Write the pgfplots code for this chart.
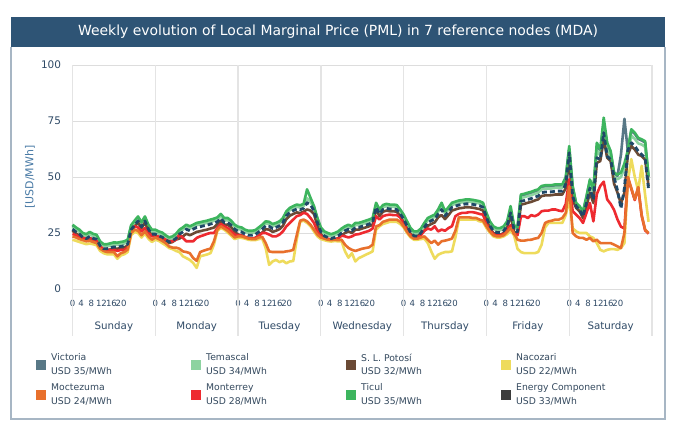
\documentclass[border=0pt]{standalone}
\usepackage{pgfplots}
\pgfplotsset{compat=1.18}
\usepackage{pgfplotstable}
\usepackage{fontspec}
\setmainfont{DejaVu Sans}

\definecolor{band}{HTML}{2E5475}
\definecolor{framec}{HTML}{A7B6C4}
\definecolor{ticktxt}{HTML}{2F4A66}
\definecolor{ylab}{HTML}{4A7BA6}
\definecolor{gridc}{HTML}{DDDDDD}
\definecolor{gridv}{HTML}{E4E4E4}
\definecolor{legtxt}{HTML}{34495E}
\definecolor{cVic}{HTML}{587886}
\definecolor{cTem}{HTML}{8DD3A0}
\definecolor{cSLP}{HTML}{6B4A35}
\definecolor{cNac}{HTML}{EEDB5C}
\definecolor{cMoc}{HTML}{E8702C}
\definecolor{cMty}{HTML}{EE2A30}
\definecolor{cTic}{HTML}{3DB55E}
\definecolor{cEne}{HTML}{3C3C3C}
\definecolor{cEneLine}{HTML}{1F4868}

% hourly PML, Sunday 0h ... Saturday 23h (USD/MWh)
\pgfplotstableread[row sep=crcr,header=false]{
28.7\\27.5\\26.5\\25.0\\24.5\\25.5\\24.6\\24.2\\21.3\\20.0\\20.0\\20.4\\20.8\\20.7\\21.0\\21.3\\22.0\\28.5\\30.5\\32.4\\29.8\\32.4\\28.7\\26.5\\
26.5\\25.7\\25.2\\24.0\\23.0\\23.5\\24.6\\26.5\\27.5\\28.7\\28.0\\28.7\\29.5\\29.8\\30.2\\30.5\\31.0\\31.4\\32.0\\33.5\\31.7\\31.7\\30.5\\28.7\\
27.8\\27.5\\26.5\\26.0\\26.0\\26.3\\27.5\\28.7\\30.2\\30.0\\29.0\\29.5\\30.2\\31.7\\34.7\\36.2\\37.0\\37.7\\37.4\\38.0\\44.5\\40.7\\37.0\\31.7\\
27.5\\25.7\\25.0\\24.5\\25.0\\25.7\\27.0\\28.0\\28.7\\28.0\\29.5\\29.5\\30.0\\30.5\\31.0\\31.7\\38.5\\35.5\\37.5\\38.0\\37.7\\37.7\\37.5\\35.5\\
33.2\\30.2\\27.2\\25.7\\25.7\\27.0\\29.5\\31.7\\32.5\\33.2\\35.5\\38.5\\34.7\\36.5\\38.5\\39.0\\39.5\\39.7\\40.0\\40.0\\39.8\\39.5\\39.2\\38.5\\
34.0\\30.2\\28.0\\27.2\\27.2\\28.0\\30.2\\37.0\\28.5\\27.5\\42.2\\42.5\\43.0\\43.4\\44.0\\44.5\\46.0\\46.3\\46.3\\46.4\\46.7\\46.7\\46.7\\50.0\\
63.8\\45.9\\38.4\\37.0\\34.7\\41.4\\48.9\\44.4\\65.3\\62.3\\76.5\\65.3\\61.6\\52.0\\51.0\\52.0\\56.0\\62.0\\71.3\\69.8\\67.5\\66.8\\66.0\\50.4\\
}\tTic

\pgfplotstableread[row sep=crcr,header=false]{
27.7\\26.5\\25.5\\24.0\\23.5\\24.5\\23.6\\23.2\\20.3\\19.0\\19.0\\19.4\\19.8\\19.7\\20.0\\20.3\\21.0\\27.5\\29.5\\31.4\\28.8\\31.4\\27.7\\25.5\\
25.5\\24.7\\24.2\\23.0\\22.0\\22.5\\23.6\\25.5\\26.5\\27.7\\27.0\\27.7\\28.5\\28.8\\29.2\\29.5\\30.0\\30.4\\31.0\\32.5\\30.7\\30.7\\29.5\\27.7\\
26.8\\26.5\\25.5\\25.0\\25.0\\25.3\\26.5\\27.7\\29.2\\29.0\\28.0\\28.5\\29.2\\30.7\\33.7\\35.2\\36.0\\36.7\\36.4\\37.0\\40.5\\39.0\\36.0\\30.7\\
26.5\\24.7\\24.0\\23.5\\24.0\\24.7\\26.0\\27.0\\27.7\\27.0\\28.5\\28.5\\29.0\\29.5\\30.0\\30.7\\37.5\\34.5\\36.5\\37.0\\36.7\\36.7\\36.5\\34.5\\
32.2\\29.2\\26.2\\24.7\\24.7\\26.0\\28.5\\30.7\\31.5\\32.2\\34.5\\37.0\\33.7\\35.5\\37.5\\38.0\\38.5\\38.7\\39.0\\39.0\\38.8\\38.5\\38.2\\37.5\\
33.0\\29.2\\27.0\\26.2\\26.2\\27.0\\29.2\\35.5\\27.5\\26.5\\40.7\\41.0\\41.5\\41.9\\42.5\\43.0\\44.5\\44.8\\44.8\\44.9\\45.2\\45.2\\45.2\\49.0\\
62.0\\43.5\\37.0\\35.5\\33.5\\40.0\\47.0\\42.5\\62.0\\59.5\\72.0\\62.5\\59.0\\50.0\\49.0\\50.0\\54.0\\60.0\\68.5\\67.0\\65.0\\64.5\\63.5\\48.5\\
}\tTem

\pgfplotstableread[row sep=crcr,header=false]{
28.2\\27.0\\26.0\\24.5\\24.0\\25.0\\24.1\\23.7\\20.8\\19.5\\19.5\\19.9\\20.3\\20.2\\20.5\\20.8\\21.5\\28.0\\30.0\\31.9\\29.3\\31.9\\28.2\\26.0\\
26.0\\25.2\\24.7\\23.5\\22.5\\23.0\\24.1\\26.0\\27.0\\28.2\\27.5\\28.2\\29.0\\29.3\\29.7\\30.0\\30.5\\30.9\\31.5\\33.0\\31.2\\31.2\\30.0\\28.2\\
27.3\\27.0\\26.0\\25.5\\25.5\\25.8\\27.0\\28.2\\29.7\\29.5\\28.5\\29.0\\29.7\\31.2\\34.2\\35.7\\36.5\\37.2\\36.9\\37.5\\40.0\\39.5\\36.5\\31.2\\
27.0\\25.2\\24.5\\24.0\\24.5\\25.2\\26.5\\27.5\\28.2\\27.5\\29.0\\29.0\\29.5\\30.0\\30.5\\31.2\\37.0\\35.0\\37.0\\37.5\\37.2\\37.2\\37.0\\35.0\\
32.7\\29.7\\26.7\\25.2\\25.2\\26.5\\29.0\\31.2\\32.0\\32.7\\35.0\\36.5\\34.2\\36.0\\38.0\\38.5\\39.0\\39.2\\39.5\\39.5\\39.3\\39.0\\38.7\\38.0\\
33.5\\29.7\\27.5\\26.7\\26.7\\27.5\\29.7\\35.0\\28.0\\27.0\\41.7\\42.0\\42.5\\42.9\\43.5\\44.0\\45.5\\45.8\\45.8\\45.9\\46.2\\46.2\\46.2\\49.5\\
62.5\\45.4\\37.9\\36.5\\34.2\\40.9\\48.4\\43.9\\64.0\\61.8\\74.0\\64.8\\61.1\\51.5\\50.5\\60.0\\76.0\\61.5\\70.8\\69.3\\67.0\\66.3\\65.5\\49.9\\
}\tVic

\pgfplotstableread[row sep=crcr,header=false]{
26.7\\25.5\\24.5\\23.0\\22.5\\23.5\\22.6\\22.2\\19.3\\18.0\\18.0\\18.4\\18.8\\18.7\\19.0\\19.3\\20.0\\26.5\\28.5\\30.4\\27.8\\30.4\\26.7\\24.5\\
24.5\\23.7\\23.2\\22.0\\21.0\\21.5\\22.6\\24.5\\25.5\\26.7\\26.0\\26.7\\27.5\\27.8\\28.2\\28.5\\29.0\\29.4\\30.0\\31.5\\29.7\\29.7\\28.5\\26.7\\
25.8\\25.5\\24.5\\24.0\\24.0\\24.3\\25.5\\26.7\\28.2\\28.0\\27.0\\27.5\\28.2\\29.7\\32.7\\34.2\\35.0\\35.7\\35.4\\36.0\\38.5\\37.5\\35.0\\29.7\\
25.5\\23.7\\23.0\\22.5\\23.0\\23.7\\25.0\\26.0\\26.7\\26.0\\27.5\\27.5\\28.0\\28.5\\29.0\\29.7\\36.5\\33.5\\35.5\\36.0\\35.7\\35.7\\35.5\\33.5\\
31.2\\28.2\\25.2\\23.7\\23.7\\25.0\\27.5\\29.7\\30.5\\31.2\\33.5\\35.5\\32.7\\34.5\\36.5\\37.0\\37.5\\37.7\\38.0\\38.0\\37.8\\37.5\\37.2\\36.5\\
32.0\\28.2\\26.0\\25.2\\25.2\\26.0\\28.2\\34.0\\26.5\\25.5\\39.2\\39.5\\40.0\\40.4\\41.0\\41.5\\43.0\\43.3\\43.3\\43.4\\43.7\\43.7\\43.7\\47.0\\
60.8\\41.4\\37.0\\35.4\\32.4\\38.4\\45.1\\39.9\\58.6\\57.8\\69.8\\59.3\\57.8\\50.0\\44.0\\36.0\\45.0\\62.0\\65.3\\63.8\\61.6\\60.0\\58.6\\44.4\\
}\tEne

\pgfplotstableread[row sep=crcr,header=false]{
26.0\\24.8\\23.8\\22.3\\21.8\\22.8\\21.9\\21.5\\18.6\\17.3\\17.3\\17.7\\18.1\\18.0\\18.3\\18.6\\19.3\\25.8\\27.8\\29.7\\27.1\\29.7\\26.0\\23.8\\
24.0\\23.2\\22.7\\21.5\\20.5\\21.0\\22.1\\22.5\\23.5\\24.7\\24.0\\24.7\\25.5\\25.8\\26.2\\26.5\\27.0\\27.4\\29.0\\30.5\\28.7\\28.7\\27.5\\25.7\\
24.3\\24.0\\23.0\\22.5\\22.5\\22.8\\24.0\\25.2\\26.7\\26.5\\25.5\\26.0\\26.7\\28.2\\31.2\\32.7\\33.5\\34.2\\33.9\\34.5\\35.5\\35.0\\33.5\\28.2\\
24.5\\22.7\\22.0\\21.5\\22.0\\22.7\\24.0\\25.0\\25.7\\25.0\\26.5\\26.5\\27.0\\27.5\\28.0\\28.7\\35.5\\32.5\\34.5\\35.0\\34.7\\34.7\\34.5\\32.5\\
29.7\\27.0\\24.5\\23.5\\23.5\\24.8\\26.0\\28.2\\29.0\\29.7\\32.0\\33.0\\31.2\\33.0\\35.0\\35.5\\36.0\\36.2\\36.5\\36.5\\36.3\\36.0\\35.7\\35.0\\
31.0\\27.2\\25.0\\24.2\\24.2\\25.0\\27.2\\33.0\\25.5\\24.5\\37.7\\38.0\\38.5\\38.9\\39.5\\40.0\\41.5\\41.8\\41.8\\41.9\\42.2\\42.2\\42.2\\45.0\\
57.8\\39.9\\36.2\\34.7\\31.7\\37.0\\42.9\\38.4\\56.3\\57.1\\66.8\\58.6\\57.1\\47.0\\43.0\\38.0\\43.0\\60.0\\63.8\\62.3\\60.0\\59.3\\57.8\\45.9\\
}\tSLP

\pgfplotstableread[row sep=crcr,header=false]{
24.6\\24.0\\23.3\\22.8\\22.5\\22.8\\22.0\\21.5\\19.0\\17.8\\17.5\\17.5\\17.5\\17.0\\17.5\\17.5\\18.5\\26.5\\28.0\\27.5\\25.7\\27.2\\25.0\\23.5\\
23.8\\23.3\\22.8\\22.0\\21.3\\21.3\\22.0\\24.3\\22.8\\21.3\\21.3\\21.3\\22.8\\23.5\\24.0\\24.6\\25.0\\25.0\\27.2\\29.0\\28.0\\27.2\\25.7\\24.3\\
24.0\\23.8\\23.3\\22.8\\22.5\\22.8\\23.8\\25.0\\25.0\\24.3\\23.5\\23.5\\24.3\\25.7\\28.0\\29.5\\31.0\\32.5\\33.0\\34.0\\33.5\\31.7\\29.5\\25.7\\
23.8\\23.0\\22.5\\22.0\\22.3\\22.5\\23.8\\23.5\\23.0\\23.5\\24.3\\24.5\\25.0\\25.5\\26.0\\27.0\\32.5\\31.0\\32.5\\33.0\\33.2\\33.0\\33.0\\32.0\\
29.0\\26.5\\24.0\\23.0\\23.0\\24.0\\26.0\\27.0\\26.5\\28.0\\25.7\\26.5\\26.0\\27.2\\28.0\\32.5\\33.5\\34.0\\34.0\\34.3\\34.3\\34.0\\33.5\\33.2\\
29.0\\26.5\\24.5\\24.0\\24.0\\24.5\\26.5\\28.5\\24.5\\24.0\\32.5\\32.5\\31.7\\33.0\\32.5\\33.2\\34.7\\35.0\\35.0\\35.5\\35.5\\35.0\\34.7\\38.0\\
49.0\\34.7\\33.2\\31.7\\29.5\\34.0\\38.4\\30.2\\42.4\\46.0\\47.9\\40.0\\38.0\\35.3\\31.0\\27.8\\27.0\\49.7\\44.7\\39.7\\45.2\\32.7\\26.2\\24.7\\
}\tMty

\pgfplotstableread[row sep=crcr,header=false]{
23.5\\23.0\\22.3\\21.8\\21.3\\21.5\\21.0\\20.5\\18.0\\17.0\\16.5\\16.5\\16.5\\14.6\\16.0\\16.5\\17.6\\25.0\\26.5\\26.0\\24.0\\25.7\\23.5\\22.0\\
23.0\\22.3\\21.5\\20.5\\19.0\\18.5\\18.5\\18.0\\16.8\\16.5\\16.0\\13.8\\12.6\\16.5\\17.1\\17.6\\18.0\\21.3\\26.5\\28.0\\27.0\\26.0\\24.5\\23.0\\
23.5\\23.5\\23.0\\22.5\\22.3\\22.3\\23.0\\23.3\\20.5\\16.8\\16.5\\16.5\\16.5\\16.5\\16.8\\17.0\\17.5\\24.0\\30.5\\31.0\\30.2\\28.7\\26.5\\24.3\\
23.0\\22.5\\22.0\\21.8\\22.0\\21.8\\22.0\\19.8\\18.3\\17.5\\17.0\\17.5\\18.0\\18.3\\18.6\\19.8\\28.0\\28.5\\30.0\\30.5\\31.0\\31.0\\31.0\\30.0\\
28.0\\25.5\\23.5\\22.5\\22.5\\23.0\\23.5\\22.0\\20.5\\21.6\\19.8\\21.3\\21.6\\22.0\\22.5\\26.0\\32.0\\32.0\\32.0\\32.0\\31.7\\31.7\\31.0\\30.5\\
28.0\\25.7\\24.0\\23.5\\23.5\\24.0\\25.5\\27.2\\25.0\\22.0\\21.6\\21.6\\21.9\\22.0\\22.5\\22.8\\25.0\\29.5\\30.2\\30.5\\31.0\\31.0\\31.7\\34.0\\
45.9\\25.0\\23.5\\22.8\\22.8\\22.0\\22.8\\21.3\\22.0\\20.5\\20.5\\20.5\\20.5\\19.8\\19.0\\18.3\\25.0\\50.0\\45.0\\40.0\\45.5\\33.0\\26.5\\25.0\\
}\tMoc

\pgfplotstableread[row sep=crcr,header=false]{
22.0\\21.5\\21.0\\20.5\\20.0\\20.3\\20.0\\19.5\\17.0\\16.0\\15.5\\15.5\\15.5\\13.5\\15.0\\15.5\\16.5\\24.0\\25.5\\25.0\\23.0\\24.7\\22.5\\21.0\\
22.0\\21.5\\20.5\\19.5\\18.3\\17.8\\17.0\\16.5\\14.6\\13.8\\13.0\\11.6\\9.4\\14.6\\15.0\\15.4\\16.0\\19.8\\26.0\\27.2\\26.5\\25.2\\23.8\\22.3\\
22.8\\22.8\\22.5\\22.0\\21.8\\21.8\\22.3\\22.5\\18.3\\10.8\\12.3\\13.0\\12.0\\12.6\\11.5\\12.3\\12.5\\22.0\\30.0\\30.5\\29.5\\28.0\\25.7\\23.5\\
22.3\\21.8\\21.4\\21.2\\21.4\\21.3\\21.3\\16.8\\14.0\\16.0\\12.3\\13.8\\14.5\\15.3\\16.0\\16.8\\26.5\\28.0\\29.0\\29.5\\30.0\\30.0\\30.0\\29.0\\
27.5\\25.0\\23.0\\22.0\\22.0\\22.3\\22.5\\20.5\\16.8\\13.5\\15.3\\16.0\\16.5\\16.5\\16.8\\23.0\\31.0\\31.0\\31.0\\31.0\\31.0\\31.0\\30.2\\30.0\\
27.2\\25.2\\23.5\\23.0\\23.0\\23.5\\24.5\\26.0\\24.0\\18.0\\16.5\\16.0\\16.0\\16.0\\16.0\\16.5\\19.8\\27.5\\29.5\\29.5\\29.5\\29.5\\29.5\\33.0\\
40.0\\27.2\\25.7\\25.0\\25.0\\25.0\\23.5\\22.8\\20.5\\17.5\\16.8\\17.5\\17.8\\17.8\\17.5\\18.3\\20.5\\48.0\\58.0\\50.0\\44.0\\55.0\\42.0\\30.0\\
}\tNac

\begin{document}
\begin{tikzpicture}[x=1bp,y=1bp]
\useasboundingbox (0,0) rectangle (674,430);
\fill[white] (0,0) rectangle (674,430);
% outer panel and title band
\draw[framec, line width=1.2bp] (11,383) -- (11,11) -- (665,11) -- (665,383);
\fill[band] (11,383) rectangle (665,413);
\node[white, font=\fontsize{14}{16}\selectfont] at (338,398.5)
  {Weekly evolution of Local Marginal Price (PML) in 7 reference nodes (MDA)};
% vertical axis title
\node[rotate=90, text=ylab, font=\fontsize{11}{13}\selectfont] at (30,253) {[USD/MWh]};

\begin{axis}[
  at={(72.5bp,141bp)}, anchor=south west,
  width=579.5bp, height=224bp, scale only axis,
  xmin=0, xmax=168, ymin=0, ymax=100,
  axis line style={draw=none},
  clip=false,
  major tick length=0pt,
  ytick={0,25,50,75,100},
  yticklabels={0,25,50,75,100},
  ymajorgrids,
  y grid style={gridc, line width=0.9bp},
  yticklabel style={font=\fontsize{10.5}{12}\selectfont, text=ticktxt, xshift=-8bp},
  xtick={0,2.5,5.5,8.4,11.3,14.1,
         24,26.5,29.5,32.4,35.3,38.1,
         48,50.5,53.5,56.4,59.3,62.1,
         72,74.5,77.5,80.4,83.3,86.1,
         96,98.5,101.5,104.4,107.3,110.1,
         120,122.5,125.5,128.4,131.3,134.1,
         144,146.5,149.5,152.4,155.3,158.1},
  xticklabels={0,4,8,12,16,20,0,4,8,12,16,20,0,4,8,12,16,20,0,4,8,12,16,20,
               0,4,8,12,16,20,0,4,8,12,16,20,0,4,8,12,16,20},
  xticklabel style={font=\fontsize{8.6}{10}\selectfont, text=ticktxt, anchor=center, yshift=-14bp},
  extra x ticks={0,24,48,72,96,120,144,168},
  extra x tick labels={},
  extra x tick style={grid=major, major grid style={gridv, line width=1.4bp}},
  every axis plot/.append style={line width=2.6bp, line join=round, no markers},
]
\addplot[cVic] table[x expr=\coordindex, y index=0] {\tVic};
\addplot[cTem] table[x expr=\coordindex, y index=0] {\tTem};
\addplot[cSLP] table[x expr=\coordindex, y index=0] {\tSLP};
\addplot[cNac] table[x expr=\coordindex, y index=0] {\tNac};
\addplot[cMty] table[x expr=\coordindex, y index=0] {\tMty};
\addplot[cMoc] table[x expr=\coordindex, y index=0] {\tMoc};
\addplot[cTic] table[x expr=\coordindex, y index=0] {\tTic};
\addplot[cEneLine, line width=2.8bp, dash pattern=on 5bp off 3bp] table[x expr=\coordindex, y index=0] {\tEne};

% day separators below the plot and day names
\pgfplotsinvokeforeach{0,24,48,72,96,120,144,168}{
  \draw[gridv, line width=1.2bp] (axis cs:#1,0) -- ++(0bp,-47bp);
}
\begin{scope}[every node/.style={text=ticktxt, font=\fontsize{10.3}{12}\selectfont}]
\node[yshift=-38bp] at (axis cs:12,0) {Sunday};
\node[yshift=-38bp] at (axis cs:36,0) {Monday};
\node[yshift=-38bp] at (axis cs:60,0) {Tuesday};
\node[yshift=-38bp] at (axis cs:84,0) {Wednesday};
\node[yshift=-38bp] at (axis cs:108,0) {Thursday};
\node[yshift=-38bp] at (axis cs:132,0) {Friday};
\node[yshift=-38bp] at (axis cs:156,0) {Saturday};
\end{scope}
\end{axis}

% legend
\begin{scope}[every node/.style={anchor=west, align=left, text=legtxt,
    font=\fontsize{9.3}{13.5}\selectfont, inner sep=0pt}]
\fill[cVic] (36,60) rectangle (46,70);  \node at (51,65.5) {Victoria\\USD 35/MWh};
\fill[cTem] (191,60) rectangle (201,70); \node at (206,65.5) {Temascal\\USD 34/MWh};
\fill[cSLP] (346,60) rectangle (356,70); \node at (361,65.5) {S. L. Potosí\\USD 32/MWh};
\fill[cNac] (501,60) rectangle (511,70); \node at (516,65.5) {Nacozari\\USD 22/MWh};
\fill[cMoc] (36,30) rectangle (46,40);  \node at (51,35.5) {Moctezuma\\USD 24/MWh};
\fill[cMty] (191,30) rectangle (201,40); \node at (206,35.5) {Monterrey\\USD 28/MWh};
\fill[cTic] (346,30) rectangle (356,40); \node at (361,35.5) {Ticul\\USD 35/MWh};
\fill[cEne] (501,30) rectangle (511,40); \node at (516,35.5) {Energy Component\\USD 33/MWh};
\end{scope}
\end{tikzpicture}
\end{document}
